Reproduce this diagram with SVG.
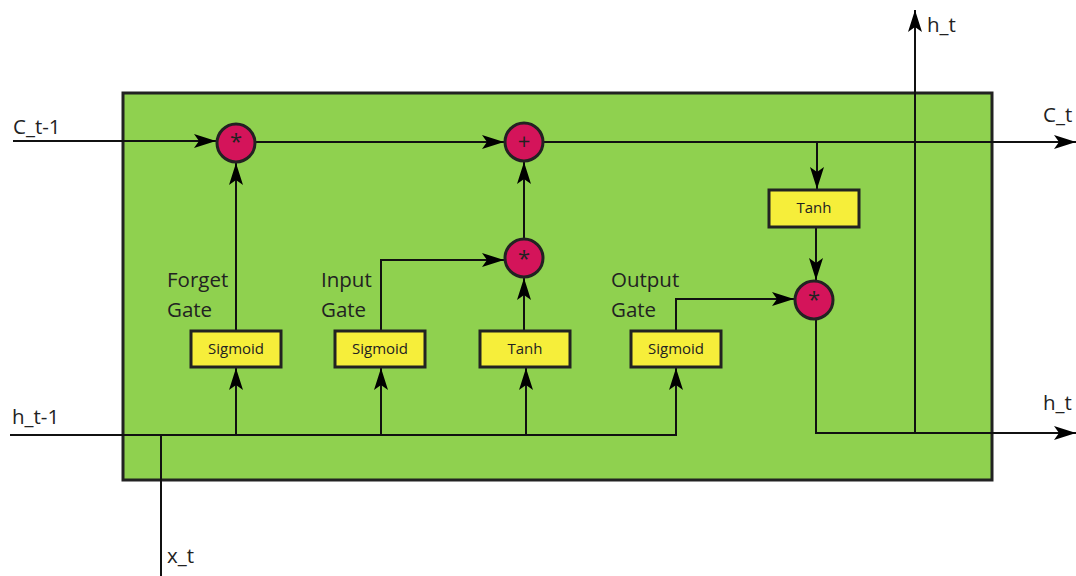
<svg xmlns="http://www.w3.org/2000/svg" width="1076" height="576" viewBox="0 0 1076 576">
<style>
.lbl{font-family:"Open Sans","Liberation Sans",sans-serif;font-size:20.5px;fill:#222}
.box{fill:#f6ee3a;stroke:#222;stroke-width:3}
.bt{font-family:"Open Sans","Liberation Sans",sans-serif;font-size:15px;fill:#222;text-anchor:middle}
.op{fill:#d4145a;stroke:#222;stroke-width:3}
.ot{font-family:"Open Sans","Liberation Sans",sans-serif;font-size:22px;fill:#222;text-anchor:middle}
.ln{fill:none;stroke:#111;stroke-width:2}
</style>
<defs>
<marker id="ah" viewBox="0 0 22 14" refX="22" refY="7" markerWidth="22" markerHeight="14" markerUnits="userSpaceOnUse" orient="auto">
<path d="M0,0 L22,7 L0,14 L5,7 Z" fill="#000"/>
</marker>
</defs>
<rect x="0" y="0" width="1076" height="576" fill="#fff"/>
<rect id="cell" x="123" y="93" width="869" height="387" fill="#8fd14f" stroke="#222" stroke-width="3"/>
<g id="connectors">
<path class="ln" d="M13,141 H216" marker-end="url(#ah)"/>
<path class="ln" d="M255,142 H504" marker-end="url(#ah)"/>
<path class="ln" d="M543,142 H1076" marker-end="url(#ah)"/>
<path class="ln" d="M817,142 V189" marker-end="url(#ah)"/>
<path class="ln" d="M816,227 V280" marker-end="url(#ah)"/>
<path class="ln" d="M816,319 V433 H1076" marker-end="url(#ah)"/>
<path class="ln" d="M915,433 V10" marker-end="url(#ah)"/>
<path class="ln" d="M10,435 H676 V368" marker-end="url(#ah)"/>
<path class="ln" d="M161,576 V435"/>
<path class="ln" d="M236,435 V368" marker-end="url(#ah)"/>
<path class="ln" d="M381,435 V368" marker-end="url(#ah)"/>
<path class="ln" d="M526,435 V368" marker-end="url(#ah)"/>
<path class="ln" d="M236,330 V163" marker-end="url(#ah)"/>
<path class="ln" d="M381,330 V260 H504" marker-end="url(#ah)"/>
<path class="ln" d="M524,330 V278" marker-end="url(#ah)"/>
<path class="ln" d="M524,239 V162" marker-end="url(#ah)"/>
<path class="ln" d="M676,330 V299 H794" marker-end="url(#ah)"/>
</g>
<g id="forget-mul"><circle class="op" cx="236" cy="143" r="19"/><text class="ot" x="236" y="149">*</text></g>
<g id="add"><circle class="op" cx="524" cy="142" r="19"/><text class="ot" x="524" y="149">+</text></g>
<g id="input-mul"><circle class="op" cx="524" cy="258" r="19"/><text class="ot" x="524" y="266">*</text></g>
<g id="output-mul"><circle class="op" cx="814" cy="300" r="19"/><text class="ot" x="814" y="307">*</text></g>
<g id="forget-sigmoid"><rect class="box" x="191" y="331" width="90" height="36"/><text class="bt" x="236" y="354">Sigmoid</text></g>
<g id="input-sigmoid"><rect class="box" x="335" y="331" width="90" height="36"/><text class="bt" x="380" y="354">Sigmoid</text></g>
<g id="input-tanh"><rect class="box" x="480" y="331" width="90" height="36"/><text class="bt" x="525" y="354">Tanh</text></g>
<g id="output-sigmoid"><rect class="box" x="631" y="331" width="90" height="36"/><text class="bt" x="676" y="354">Sigmoid</text></g>
<g id="cell-tanh"><rect class="box" x="769" y="190" width="90" height="37"/><text class="bt" x="814" y="213">Tanh</text></g>
<g id="labels">
<text class="lbl" x="13" y="134">C_t-1</text>
<text class="lbl" x="12" y="424">h_t-1</text>
<text class="lbl" x="167" y="563">x_t</text>
<text class="lbl" x="927" y="32">h_t</text>
<text class="lbl" x="1043" y="122">C_t</text>
<text class="lbl" x="1043" y="410">h_t</text>
<text class="lbl" x="167" y="287">Forget</text>
<text class="lbl" x="167" y="317">Gate</text>
<text class="lbl" x="321" y="287">Input</text>
<text class="lbl" x="321" y="317">Gate</text>
<text class="lbl" x="611" y="287">Output</text>
<text class="lbl" x="611" y="317">Gate</text>
</g>
</svg>
